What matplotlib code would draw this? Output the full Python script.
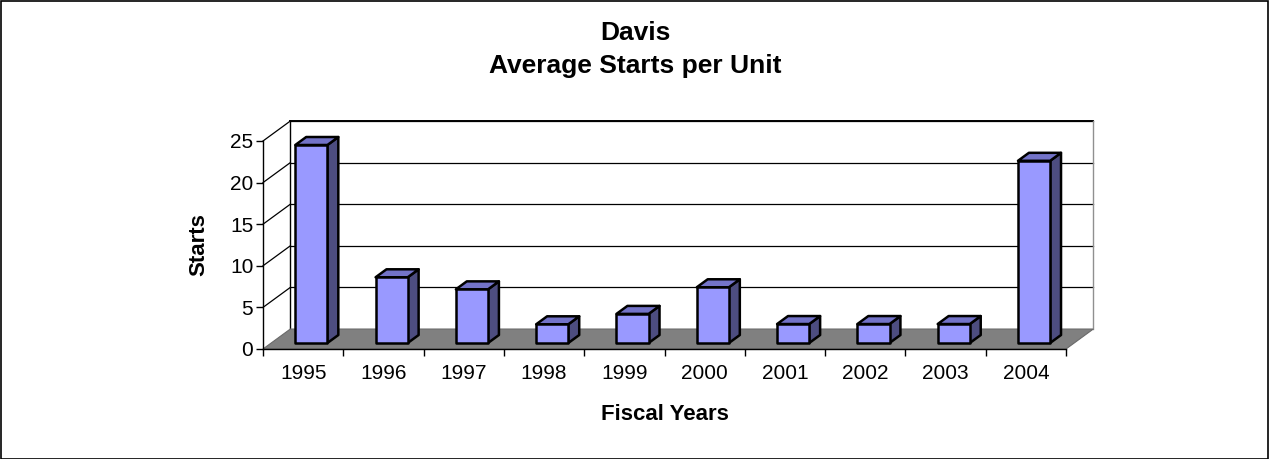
import matplotlib

matplotlib.use("Agg")
import matplotlib.pyplot as plt
from matplotlib.patches import Polygon, Rectangle

plt.rcParams["font.family"] = ["Liberation Sans", "DejaVu Sans"]

years = ["1995", "1996", "1997", "1998", "1999", "2000", "2001", "2002", "2003", "2004"]
starts = [23.8, 7.9, 6.45, 2.25, 3.5, 6.7, 2.28, 2.28, 2.28, 21.9]
y_ticks = [0, 5, 10, 15, 20, 25]

# oblique 3D look: depth offset of the back wall in data units
DX, DY = 0.34, 2.4
BAR_W = 0.4
D_FRONT, D_BACK = 0.3, 0.7

FRONT = "#9999FF"
SIDE = "#4D4D80"
TOP = "#7373C8"


def proj(x, y, d):
    return (x + d * DX, y + d * DY)


fig = plt.figure(figsize=(12.7, 4.59), dpi=100)
fig.patches.append(Rectangle((0.0008, 0.001), 0.998, 0.997, transform=fig.transFigure,
                             fill=False, edgecolor="black", linewidth=1.2))

ax = fig.add_axes([263 / 1270, 110 / 459, 803 / 1270, 208 / 459])
ax.set_xlim(0, len(years))
ax.set_ylim(0, y_ticks[-1])
ax.patch.set_visible(False)

n = len(years)
ymax = y_ticks[-1]

# back wall gridlines + left wall diagonals
for v in y_ticks[1:]:
    p0 = proj(0, v, 1)
    p1 = proj(n, v, 1)
    ax.plot([p0[0], p1[0]], [p0[1], p1[1]], color="black", lw=0.9, clip_on=False, zorder=1)
    q0 = proj(0, v, 0)
    ax.plot([q0[0], p0[0]], [q0[1], p0[1]], color="black", lw=0.9, clip_on=False, zorder=1)

# wall edges
bl, tl = proj(0, 0, 1), proj(0, ymax, 1)
br, tr = proj(n, 0, 1), proj(n, ymax, 1)
ax.plot([bl[0], tl[0]], [bl[1], tl[1]], color="black", lw=1.0, clip_on=False, zorder=1)
ax.plot([tl[0], tr[0]], [tl[1], tr[1]], color="black", lw=1.4, clip_on=False, zorder=1)
ax.plot([br[0], tr[0]], [br[1], tr[1]], color="#909090", lw=1.0, clip_on=False, zorder=1)

# floor
floor = [proj(0, 0, 0), proj(n, 0, 0), proj(n, 0, 1), proj(0, 0, 1)]
ax.add_patch(Polygon(floor, closed=True, facecolor="#808080", edgecolor="#6a6a6a",
                     lw=0.8, clip_on=False, zorder=2))

# bars
for i, v in enumerate(starts):
    x0 = i + 0.5 - BAR_W / 2
    x1 = i + 0.5 + BAR_W / 2
    front = [proj(x0, 0, D_FRONT), proj(x1, 0, D_FRONT), proj(x1, v, D_FRONT), proj(x0, v, D_FRONT)]
    side = [proj(x1, 0, D_FRONT), proj(x1, 0, D_BACK), proj(x1, v, D_BACK), proj(x1, v, D_FRONT)]
    top = [proj(x0, v, D_FRONT), proj(x1, v, D_FRONT), proj(x1, v, D_BACK), proj(x0, v, D_BACK)]
    for pts, col in ((side, SIDE), (top, TOP), (front, FRONT)):
        ax.add_patch(Polygon(pts, closed=True, facecolor=col, edgecolor="black",
                             lw=1.8, joinstyle="round", clip_on=False, zorder=3))

for s in ("top", "right"):
    ax.spines[s].set_visible(False)
ax.spines["left"].set_linewidth(1.0)
ax.spines["bottom"].set_linewidth(1.0)
ax.spines["left"].set_zorder(4)
ax.spines["bottom"].set_zorder(4)

ax.set_yticks(y_ticks)
ax.tick_params(axis="y", direction="out", length=5, width=1.0, labelsize=15, pad=2)
ax.set_xticks(range(n + 1))
ax.set_xticklabels([])
ax.set_xticks([i + 0.5 for i in range(n)], minor=True)
ax.set_xticklabels(years, minor=True)
ax.tick_params(axis="x", which="major", direction="out", length=5, width=1.0)
ax.tick_params(axis="x", which="minor", length=0, labelsize=15, pad=11)

ax.set_ylabel("Starts", fontsize=16, fontweight="bold", labelpad=15)
ax.set_xlabel("Fiscal Years", fontsize=16, fontweight="bold", labelpad=15)

fig.text(0.5, 1 - 33 / 459, "Davis", ha="center", va="center", fontsize=19, fontweight="bold")
fig.text(0.5, 1 - 66 / 459, "Average Starts per Unit", ha="center", va="center",
         fontsize=19, fontweight="bold")

fig.savefig("out.png", dpi=100)
